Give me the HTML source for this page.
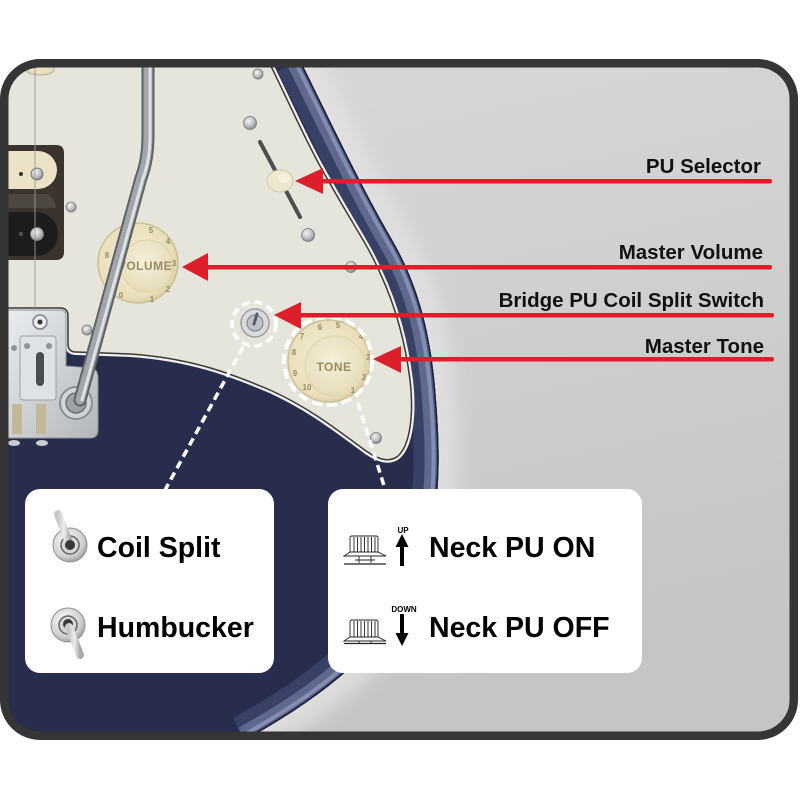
<!DOCTYPE html>
<html><head><meta charset="utf-8"><style>
html,body{margin:0;padding:0;background:#fff;}
svg{display:block;}
text{font-family:"Liberation Sans",Arial,sans-serif;}
</style></head><body>
<svg width="800" height="800" viewBox="0 0 800 800" xmlns="http://www.w3.org/2000/svg">
<defs>
<clipPath id="fc"><rect x="4" y="63" width="790" height="673" rx="36"/></clipPath>
<clipPath id="bc"><path d="M0,60 L300,60 C330,120 360,185 395,245 C420,290 432,340 436,400 C440,450 440,490 432,530 C420,590 390,630 350,668 C320,695 285,718 245,740 L0,740 Z"/></clipPath>
<linearGradient id="bg" x1="0" y1="0" x2="0.25" y2="1"><stop offset="0" stop-color="#d9d9d9"/><stop offset="1" stop-color="#c5c5c5"/></linearGradient>
<radialGradient id="scr" cx="0.4" cy="0.35" r="0.7"><stop offset="0" stop-color="#f4f4f4"/><stop offset="0.6" stop-color="#b9bbbe"/><stop offset="1" stop-color="#7d8084"/></radialGradient>
<linearGradient id="chr" x1="0" y1="0" x2="1" y2="1"><stop offset="0" stop-color="#eceef0"/><stop offset="0.5" stop-color="#d0d3d6"/><stop offset="1" stop-color="#b2b6ba"/></linearGradient>
<radialGradient id="knob" cx="0.45" cy="0.45" r="0.6"><stop offset="0" stop-color="#f3ecd2"/><stop offset="0.8" stop-color="#e9dfba"/><stop offset="1" stop-color="#d6c89e"/></radialGradient>
<radialGradient id="cap" cx="0.45" cy="0.4" r="0.6"><stop offset="0" stop-color="#f5efd8"/><stop offset="1" stop-color="#e6dcb8"/></radialGradient>
<radialGradient id="ico" cx="0.4" cy="0.35" r="0.7"><stop offset="0" stop-color="#fafafa"/><stop offset="0.7" stop-color="#d0d0d0"/><stop offset="1" stop-color="#9a9a9a"/></radialGradient>
<linearGradient id="lev" x1="0" y1="0" x2="1" y2="0"><stop offset="0" stop-color="#c8c8c8"/><stop offset="0.5" stop-color="#eeeeee"/><stop offset="1" stop-color="#a8a8a8"/></linearGradient>
<filter id="blur" x="-20%" y="-20%" width="140%" height="140%"><feGaussianBlur stdDeviation="9"/></filter>
</defs>
<rect width="800" height="800" fill="#fff"/>
<g clip-path="url(#fc)">
 <rect x="0" y="55" width="800" height="690" fill="url(#bg)"/>
 <path d="M300,60 C330,120 360,185 395,245 C420,290 432,340 436,400 C440,450 440,490 432,530 C420,590 390,630 350,668 C320,695 285,718 245,740" fill="none" stroke="#e2e2e2" stroke-width="40" filter="url(#blur)" opacity="0.8"/>
 <!-- body -->
 <path d="M0,60 L300,60 C330,120 360,185 395,245 C420,290 432,340 436,400 C440,450 440,490 432,530 C420,590 390,630 350,668 C320,695 285,718 245,740 L0,740 Z" fill="#282d4e"/>
 <g clip-path="url(#bc)" fill="none">
  <path d="M300,60 C330,120 360,185 395,245 C420,290 432,340 436,400 C440,450 440,490 432,530 C420,590 390,630 350,668 C320,695 285,718 245,740" stroke="#394066" stroke-width="50"/>
  <path d="M300,60 C330,120 360,185 395,245 C420,290 432,340 436,400 C440,450 440,490 432,530 C420,590 390,630 350,668 C320,695 285,718 245,740" stroke="#5f688e" stroke-width="28"/>
  <path d="M300,60 C330,120 360,185 395,245 C420,290 432,340 436,400 C440,450 440,490 432,530 C420,590 390,630 350,668 C320,695 285,718 245,740" stroke="#858eb0" stroke-width="14"/>
  <path d="M300,60 C330,120 360,185 395,245 C420,290 432,340 436,400 C440,450 440,490 432,530 C420,590 390,630 350,668 C320,695 285,718 245,740" stroke="#4f5780" stroke-width="6"/>
  <path d="M300,60 C330,120 360,185 395,245 C420,290 432,340 436,400 C440,450 440,490 432,530 C420,590 390,630 350,668 C320,695 285,718 245,740" stroke="#1d2036" stroke-width="3"/>
 </g>
 <!-- pickguard -->
 <path d="M0,60 L268,60 C290,105 310,150 328,180 C350,220 368,245 380,273 C395,305 405,340 410,380 C414,415 410,445 398,456 C388,464 375,458 362,448 C340,432 310,408 270,390 C230,373 190,358 130,354 L76,352 Q68,352 68,344 L68,316 Q68,308 60,308 L0,308 Z" fill="none" stroke="#eeeeea" stroke-width="6"/>
 <path d="M0,60 L268,60 C290,105 310,150 328,180 C350,220 368,245 380,273 C395,305 405,340 410,380 C414,415 410,445 398,456 C388,464 375,458 362,448 C340,432 310,408 270,390 C230,373 190,358 130,354 L76,352 Q68,352 68,344 L68,316 Q68,308 60,308 L0,308 Z" fill="#e6e5db" stroke="#3a3a3a" stroke-width="1.5"/>
 <ellipse cx="40" cy="69" rx="14" ry="6" fill="#e9e0c3" stroke="#b8ac88" stroke-width="1"/>
 <!-- humbucker -->
 <path d="M0,145 L56,145 Q64,145 64,153 L64,252 Q64,260 56,260 L0,260 Z" fill="#3a332e"/>
 <path d="M0,151 L38,151 A19,19 0 0 1 38,189 L0,189 Z" fill="#ece3c7"/>
 <path d="M0,194 L48,194 Q56,200 56,208 L0,208 Z" fill="#4e4843"/>
 <path d="M0,212 L36,212 A22,22 0 0 1 36,256 L0,256 Z" fill="#1c1c1c"/>
 <circle cx="37" cy="174" r="6" fill="url(#scr)" stroke="#666" stroke-width="0.8"/>
 <circle cx="21" cy="174" r="2" fill="#333"/>
 <circle cx="37" cy="234" r="6.5" fill="url(#scr)" stroke="#888" stroke-width="0.8"/>
 <circle cx="21" cy="234" r="2" fill="#555"/>
 <line x1="35" y1="66" x2="35" y2="322" stroke="#9a9a9a" stroke-width="0.9"/>
 <!-- bridge -->
 <path d="M0,310 L60,310 Q66,310 66,316 L66,366 L92,368 Q98,370 98,378 L98,430 Q98,438 90,438 L0,438 Z" fill="url(#chr)" stroke="#8d9195" stroke-width="1"/>
 <rect x="20" y="336" width="36" height="64" rx="3" fill="#dfe2e5" stroke="#999da1" stroke-width="1"/>
 <rect x="36" y="352" width="8" height="34" rx="4" fill="#4a4d50"/>
 <circle cx="40" cy="322" r="7" fill="#e8eaec" stroke="#7f8387" stroke-width="1.5"/>
 <circle cx="40" cy="322" r="2.5" fill="#333"/>
 <circle cx="14" cy="348" r="3" fill="#8f9397"/><circle cx="27" cy="346" r="3" fill="#8f9397"/><circle cx="49" cy="346" r="3" fill="#8f9397"/>
 <rect x="12" y="404" width="10" height="30" fill="#c2b899"/><rect x="36" y="404" width="10" height="30" fill="#c2b899"/>
 <ellipse cx="14" cy="443" rx="6" ry="3" fill="#c8cbcf"/><ellipse cx="42" cy="443" rx="6" ry="3" fill="#c8cbcf"/>
 <circle cx="76" cy="403" r="16" fill="#d3d6d9" stroke="#8a8d91" stroke-width="2"/>
 <circle cx="76" cy="403" r="10" fill="#9ea1a5" stroke="#6d7074" stroke-width="1.5"/>
 <!-- screws -->
 <g stroke="#777" stroke-width="0.8" fill="url(#scr)">
  <circle cx="258" cy="74" r="5"/><circle cx="250" cy="123" r="6.5"/><circle cx="308" cy="235" r="6.5"/>
  <circle cx="351" cy="267" r="5.5"/><circle cx="71" cy="207" r="5"/><circle cx="87" cy="330" r="5"/>
  <circle cx="376" cy="438" r="5.5"/>
 </g>
 <!-- pickup selector -->
 <line x1="260" y1="142" x2="300" y2="217" stroke="#4e4e4e" stroke-width="4" stroke-linecap="round"/>
 <ellipse cx="280" cy="181" rx="13" ry="11" fill="#ece7cf" stroke="#cfc8a8" stroke-width="1"/>
 <ellipse cx="284" cy="178" rx="6" ry="5" fill="#f5f1df"/>
 <!-- volume knob -->
 <circle cx="138" cy="263" r="40" fill="url(#knob)" stroke="#cdbf95" stroke-width="1.5"/>
 <circle cx="147" cy="266" r="26" fill="url(#cap)" stroke="#ddd2ac" stroke-width="1"/>
 <text x="145" y="270" font-size="12" font-weight="bold" fill="#9a8c66" text-anchor="middle" letter-spacing="0.5">VOLUME</text>
 <g font-size="8" font-weight="bold" fill="#9a8c66" text-anchor="middle">
  <text x="152" y="302">1</text><text x="168" y="292">2</text><text x="174" y="266">3</text><text x="168" y="244">4</text><text x="151" y="233">5</text>
  <text x="126" y="233">7</text><text x="107" y="258">8</text><text x="121" y="298">0</text>
 </g>
 <!-- tremolo arm -->
 <path d="M148,58 L148,135 Q148,160 141,178 L80,400" fill="none" stroke="#5f6266" stroke-width="13" stroke-linecap="round"/>
 <path d="M148,58 L148,135 Q148,160 141,178 L80,400" fill="none" stroke="#a2a5a9" stroke-width="9" stroke-linecap="round"/>
 <path d="M150,58 L150,135 Q150,160 143,178 L82,400" fill="none" stroke="#dfe1e3" stroke-width="3" stroke-linecap="round"/>
 <!-- coil switch -->
 <circle cx="255" cy="323" r="14" fill="#d9dcdf" stroke="#9a9ea2" stroke-width="1.5"/>
 <circle cx="255" cy="323" r="8" fill="#bfc3c7" stroke="#7a7e82" stroke-width="1"/>
 <line x1="254" y1="324" x2="257" y2="314" stroke="#5a5d60" stroke-width="3" stroke-linecap="round"/>
 <!-- tone knob -->
 <circle cx="329" cy="361" r="41" fill="url(#knob)" stroke="#cdbf95" stroke-width="1.5"/>
 <circle cx="335" cy="366" r="30" fill="url(#cap)" stroke="#ddd2ac" stroke-width="1"/>
 <text x="334" y="371" font-size="12" font-weight="bold" fill="#9a8c66" text-anchor="middle" letter-spacing="0.5">TONE</text>
 <g font-size="8" font-weight="bold" fill="#9a8c66" text-anchor="middle">
  <text x="353" y="393">1</text><text x="364" y="380">2</text><text x="368" y="360">3</text><text x="361" y="339">4</text><text x="338" y="328">5</text>
  <text x="320" y="330">6</text><text x="302" y="339">7</text><text x="294" y="355">8</text><text x="295" y="376">9</text><text x="307" y="390">10</text>
 </g>
 <!-- dashed circles & lines -->
 <g fill="none" stroke="#ffffff" stroke-width="3.5" stroke-dasharray="8 5">
  <circle cx="254" cy="324" r="22"/>
  <circle cx="328" cy="361" r="44" stroke-width="4" stroke-dasharray="10 5"/>
  <line x1="243" y1="347" x2="164" y2="492"/>
  <line x1="358" y1="403" x2="386" y2="492"/>
 </g>
 <!-- red arrows -->
 <g fill="#dc1f2a">
  <rect x="318" y="179" width="454" height="4.5" rx="2"/>
  <polygon points="295,181 323,168 323,194"/>
  <rect x="204" y="265" width="568" height="4.5" rx="2"/>
  <polygon points="182,267 208,253 208,281"/>
  <rect x="297" y="313" width="477" height="4.5" rx="2"/>
  <polygon points="274,315 301,302 301,329"/>
  <rect x="396" y="357" width="378" height="4.5" rx="2"/>
  <polygon points="373,359 401,346 401,373"/>
 </g>
 <!-- labels -->
 <g font-size="20.5" font-weight="bold" fill="#111" text-anchor="end">
  <text x="761" y="173">PU Selector</text>
  <text x="763" y="259">Master Volume</text>
  <text x="764" y="307">Bridge PU Coil Split Switch</text>
  <text x="764" y="353">Master Tone</text>
 </g>
 <!-- boxes -->
 <rect x="25" y="489" width="249" height="184" rx="15" fill="#ffffff"/>
 <rect x="328" y="489" width="314" height="184" rx="15" fill="#ffffff"/>
 <g font-size="28.5" font-weight="bold" fill="#000">
  <text x="97" y="557">Coil Split</text>
  <text x="97" y="637">Humbucker</text>
  <text x="429" y="557">Neck PU ON</text>
  <text x="429" y="637">Neck PU OFF</text>
 </g>
 <!-- toggle icons -->
 <circle cx="70" cy="545" r="17" fill="url(#ico)" stroke="#8e8e8e" stroke-width="1"/>
 <circle cx="70" cy="545" r="9" fill="#d6d6d6" stroke="#666" stroke-width="1.5"/>
 <line x1="70" y1="545" x2="58" y2="514" stroke="url(#lev)" stroke-width="8" stroke-linecap="round"/>
 <circle cx="70" cy="545" r="5" fill="#3a3a3a"/>
 <circle cx="68" cy="625" r="17" fill="url(#ico)" stroke="#8e8e8e" stroke-width="1"/>
 <circle cx="68" cy="625" r="9" fill="#d6d6d6" stroke="#666" stroke-width="1.5"/>
 <circle cx="68" cy="624" r="5" fill="#3a3a3a"/>
 <line x1="69" y1="627" x2="80" y2="655" stroke="url(#lev)" stroke-width="8" stroke-linecap="round"/>
 <!-- knob icons -->
 <g fill="none" stroke="#222" stroke-width="0.9">
  <path d="M350,552 L350,538 Q350,536 352,536 L376,536 Q378,536 378,538 L378,552"/>
  <path d="M354,537 V552 M357.5,537 V552 M361,537 V552 M364.5,537 V552 M368,537 V552 M371.5,537 V552 M375,537 V552"/>
  <path d="M350,552 L344,556 L386,556 L378,552 Z" fill="#fff"/>
  <path d="M359,556 V563 M371,556 V563 M355,560 H375"/>
  <line x1="344" y1="564" x2="386" y2="564" stroke-width="1.3"/>
  <path d="M350,637 L350,622 Q350,620 352,620 L376,620 Q378,620 378,622 L378,637"/>
  <path d="M354,621 V637 M357.5,621 V637 M361,621 V637 M364.5,621 V637 M368,621 V637 M371.5,621 V637 M375,621 V637"/>
  <path d="M350,637 L344,641 L386,641 L378,637 Z" fill="#fff"/>
  <line x1="344" y1="643.5" x2="386" y2="643.5" stroke-width="1.3"/>
  <path d="M359,641 V643 M371,641 V643"/>
 </g>
 <line x1="402" y1="544" x2="402" y2="566" stroke="#000" stroke-width="4"/>
 <polygon points="402,534 395.5,547 408.5,547" fill="#000"/>
 <text x="403" y="533" font-size="8" font-weight="bold" text-anchor="middle" fill="#000">UP</text>
 <line x1="402" y1="614" x2="402" y2="636" stroke="#000" stroke-width="4"/>
 <polygon points="402,646 395.5,633 408.5,633" fill="#000"/>
 <text x="404" y="612" font-size="8" font-weight="bold" text-anchor="middle" fill="#000">DOWN</text>
</g>
<rect x="4.25" y="63.25" width="789.5" height="672.5" rx="36" fill="none" stroke="#353535" stroke-width="8.5"/>
</svg>
</body></html>
